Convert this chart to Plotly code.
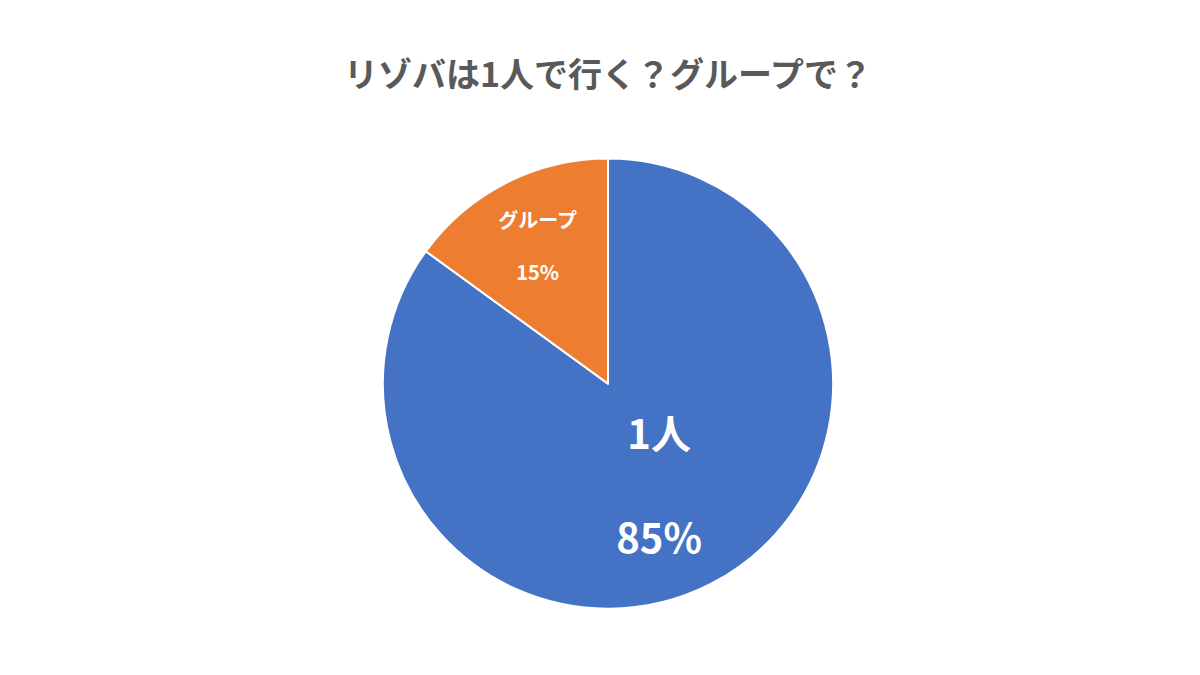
import plotly.graph_objects as go

labels = ["1人", "グループ"]
values = [85, 15]
colors = ["#4472C4", "#ED7D31"]
text_sizes = [40, 20]

fig = go.Figure()
fig.add_trace(go.Pie(
    labels=labels,
    values=values,
    sort=False,
    direction="clockwise",
    rotation=0,
    marker=dict(colors=colors, line=dict(color="white", width=2)),
    texttemplate="<b>%{label}</b><br><br><b>%{percent:.0%}</b>",
    textposition="inside",
    insidetextorientation="horizontal",
    textfont=dict(color="white", size=text_sizes, family="Noto Sans CJK JP"),
    domain=dict(x=[0, 1], y=[0.11, 0.777]),
    showlegend=False,
    hoverinfo="label+percent",
))
fig.update_layout(
    width=1200, height=675,
    margin=dict(l=0, r=0, t=0, b=0),
    paper_bgcolor="white",
    title=dict(
        text="<b>リゾバは1人で行く？グループで？</b>",
        x=0.5, y=0.9, xanchor="center", yanchor="middle",
        font=dict(size=34, color="#595959", family="Noto Sans CJK JP"),
    ),
)
fig.write_html("out.html")
